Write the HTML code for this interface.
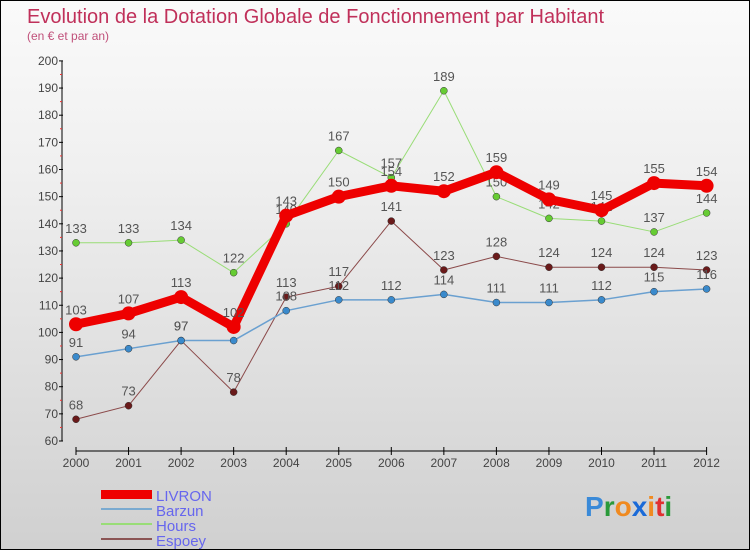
<!DOCTYPE html>
<html><head><meta charset="utf-8"><style>
body{margin:0}
#c{width:750px;height:550px;position:relative;box-sizing:border-box;border:1px solid #000;background:linear-gradient(#fafafa,#f0f0f0 30%,#d0d0d0);font-family:"Liberation Sans",sans-serif;overflow:hidden}
svg text{font-family:"Liberation Sans",sans-serif}
</style></head><body>
<div id="c">
<svg id="s" width="750" height="550" xmlns="http://www.w3.org/2000/svg">
<text x="26" y="22" font-size="20" fill="#c0305a">Evolution de la Dotation Globale de Fonctionnement par Habitant</text>
<text x="26" y="39" font-size="12" fill="#c0507a">(en € et par an)</text>
<g id="axes"></g><g id="series"></g>
<g>
<rect x="100" y="489" width="51" height="9" fill="#e00"/>
<text x="155" y="500" font-size="15" fill="#6666ee">LIVRON</text>
<rect x="100" y="507" width="51" height="2" fill="#7aaad0"/>
<text x="155" y="515" font-size="15" fill="#6666ee">Barzun</text>
<rect x="100" y="522" width="51" height="2" fill="#99dd77"/>
<text x="155" y="530" font-size="15" fill="#6666ee">Hours</text>
<rect x="100" y="537" width="51" height="2" fill="#8b5555"/>
<text x="155" y="545" font-size="15" fill="#6666ee">Espoey</text>
</g>
<g font-size="28" font-family="'Liberation Sans',sans-serif" font-weight="bold">
<text x="584" y="515"><tspan fill="#3a8ad8">P</tspan><tspan fill="#2a9a3a">r</tspan><tspan fill="#f08a20">o</tspan><tspan fill="#1a6ad8">x</tspan><tspan fill="#f08a20">i</tspan><tspan fill="#e03030">t</tspan><tspan fill="#2a9a3a">i</tspan></text>
</g>
</svg>
</div>
<script>
const years=[2000,2001,2002,2003,2004,2005,2006,2007,2008,2009,2010,2011,2012];
const livron=[103,107,113,102,143,150,154,152,159,149,145,155,154];
const barzun=[91,94,97,97,108,112,112,114,111,111,112,115,116];
const hours=[133,133,134,122,140,167,157,189,150,142,141,137,144];
const espoey=[68,73,97,78,113,117,141,123,128,124,124,124,123];
const yTicks=[60,70,80,90,100,110,120,130,140,150,160,170,180,190,200];
const NS="http://www.w3.org/2000/svg";
const X=i=>75+i*52.55, Y=v=>440-(v-60)*2.715;
function mk(tag,attrs,parent){const e=document.createElementNS(NS,tag);for(const k in attrs)e.setAttribute(k,attrs[k]);parent.appendChild(e);return e;}
const ax=document.getElementById('axes');
let l=mk('line',{x1:61,y1:Y(200),x2:61,y2:Y(60),stroke:'#000','stroke-width':1},ax);


yTicks.forEach(v=>{
 const t=mk('line',{x1:58,y1:Y(v),x2:62,y2:Y(v),stroke:'#000'},ax);
 
 
 if(v<200){const m=mk('line',{x1:59,y1:Y(v+5),x2:61,y2:Y(v+5),stroke:'#e33'},ax);
 
 }
 const tx=mk('text',{x:57,y:Y(v)+4,'font-size':12,fill:'#444','text-anchor':'end'},ax);tx.textContent=v;
 
 
});
l=mk('line',{x1:X(0),y1:450,x2:X(12),y2:450,stroke:'#000'},ax);


years.forEach((y,i)=>{
 const t=mk('line',{x1:X(i),y1:446,x2:X(i),y2:454,stroke:'#000'},ax);
 
 
 const tx=mk('text',{x:X(i),y:466,'font-size':12,fill:'#444','text-anchor':'middle'},ax);tx.textContent=y;
 
 
});
const sg=document.getElementById('series');
function draw(name,data,color,dot,w,r,lblColor){
 const g=mk('g',{},sg);
 
 
 const p=mk('polyline',{points:data.map((v,i)=>X(i)+','+Y(v)).join(' '),fill:'none',stroke:color,'stroke-width':w,'stroke-linejoin':'round'},g);
 
 
 data.forEach((v,i)=>{
  const c=mk('circle',{cx:X(i),cy:Y(v),r:r,fill:dot,stroke:w>3?'none':'#333','stroke-width':0.5},g);
  
  
  const t=mk('text',{x:X(i),y:Y(v)-10,'font-size':13,fill:lblColor,'text-anchor':'middle'},g);t.textContent=v;
  
  
 });
}
draw('espoey',espoey,'#8b4a4a','#6a1a1a',1,3.5,'#555');
draw('hours',hours,'#99dd77','#66cc33',1,3.5,'#555');
draw('barzun',barzun,'#6aa0d0','#3a8acc',1.5,3.5,'#555');
draw('livron',livron,'#ee0000','#ee0000',9,7,'#555');
</script>
</body></html>
